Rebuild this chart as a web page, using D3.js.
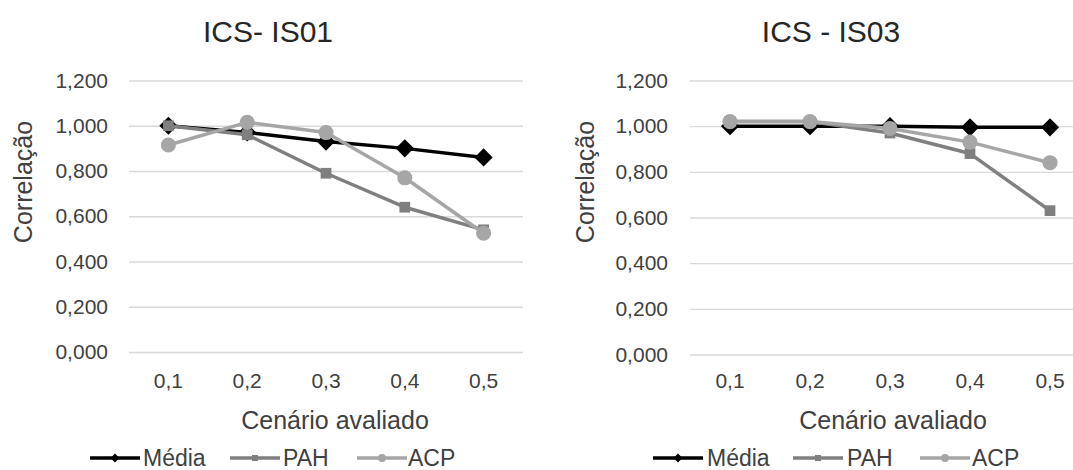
<!DOCTYPE html>
<html>
<head>
<meta charset="utf-8">
<script src="https://cdn.jsdelivr.net/npm/d3@7"></script>
<style>
  html, body { margin: 0; padding: 0; background: #fff; }
  svg { display: block; font-family: "Liberation Sans", Arial, sans-serif; }
</style>
</head>
<body>
<svg id="chart" width="1073" height="470"></svg>
<script>
// ---- data ----
const categories = ["0,1", "0,2", "0,3", "0,4", "0,5"];
const yTickValues = [0, 0.2, 0.4, 0.6, 0.8, 1.0, 1.2];
const seriesNames = ["Média", "PAH", "ACP"];

const is01Media = [1.000, 0.970, 0.930, 0.900, 0.860];
const is01PAH   = [1.000, 0.960, 0.790, 0.640, 0.540];
const is01ACP   = [0.915, 1.015, 0.970, 0.770, 0.525];

const is03Media = [1.000, 1.000, 1.000, 0.995, 0.995];
const is03PAH   = [1.020, 1.020, 0.970, 0.880, 0.630];
const is03ACP   = [1.020, 1.020, 0.990, 0.930, 0.840];

const chartTitles = ["ICS- IS01", "ICS - IS03"];
const xAxisTitle = "Cenário avaliado";
const yAxisTitle = "Correlação";

// ---- styles ----
const seriesColors = ["#000000", "#7f7f7f", "#a6a6a6"];
const seriesSymbols = [d3.symbolSquare, d3.symbolSquare, d3.symbolCircle];
const seriesRotate = [45, 0, 0];
const seriesMarkerSize = [165, 115, 180];
const legendMarkerSize = [40, 36, 50];

const locale = d3.formatLocale({decimal: ",", thousands: ".", grouping: [3], currency: ["", ""]});
const fmt = locale.format(".3f");

const svg = d3.select("#chart");

const panels = [
  {
    title: chartTitles[0], titleX: 268,
    data: [is01Media, is01PAH, is01ACP],
    x0: 129, x1: 523, yTop: 80.5, yBottom: 352,
    yLabelRight: 108, yTitleX: 32, xTitleX: 335,
    legend: [{lx: 90, tx: 143}, {lx: 230, tx: 283}, {lx: 357, tx: 408}]
  },
  {
    title: chartTitles[1], titleX: 831,
    data: [is03Media, is03PAH, is03ACP],
    x0: 690, x1: 1090, yTop: 80.5, yBottom: 354.5,
    yLabelRight: 668, yTitleX: 594, xTitleX: 893,
    legend: [{lx: 653, tx: 707}, {lx: 793, tx: 847}, {lx: 920, tx: 972}]
  }
];

panels.forEach(p => {
  const g = svg.append("g");
  const x = d3.scaleBand().domain(categories).range([p.x0, p.x1]);
  const y = d3.scaleLinear().domain([0, 1.2]).range([p.yBottom, p.yTop]);

  // title
  g.append("text")
    .attr("x", p.titleX).attr("y", 42)
    .attr("text-anchor", "middle")
    .attr("font-size", 30)
    .attr("fill", "#262626")
    .text(p.title);

  // gridlines + y labels via axis
  const yAxis = d3.axisLeft(y).tickValues(yTickValues).tickFormat(fmt)
    .tickSize(-(p.x1 - p.x0)).tickPadding(p.x0 - p.yLabelRight);
  const ya = g.append("g").attr("transform", `translate(${p.x0},0)`).call(yAxis);
  ya.select(".domain").remove();
  ya.selectAll(".tick line").attr("stroke", "#d9d9d9").attr("stroke-width", 1.3);
  ya.selectAll(".tick text")
    .attr("font-size", 21).attr("fill", "#404040")
    .attr("font-family", "Liberation Sans, Arial, sans-serif");

  // x labels via axis
  const xAxis = d3.axisBottom(x).tickSize(0).tickPadding(0);
  const xa = g.append("g").attr("transform", `translate(0,${p.yBottom})`).call(xAxis);
  xa.select(".domain").remove();
  xa.selectAll(".tick text")
    .attr("font-size", 21).attr("fill", "#404040")
    .attr("font-family", "Liberation Sans, Arial, sans-serif")
    .attr("dy", null)
    .attr("y", 388 - p.yBottom);

  // axis titles
  g.append("text")
    .attr("transform", `translate(${p.yTitleX},182) rotate(-90)`)
    .attr("text-anchor", "middle")
    .attr("font-size", 25).attr("fill", "#404040")
    .text(yAxisTitle);
  g.append("text")
    .attr("x", p.xTitleX).attr("y", 429)
    .attr("text-anchor", "middle")
    .attr("font-size", 25).attr("fill", "#404040")
    .text(xAxisTitle);

  // series
  const cx = c => x(c) + x.bandwidth() / 2;
  p.data.forEach((vals, si) => {
    const pts = vals.map((v, i) => [cx(categories[i]), y(v)]);
    g.append("path")
      .attr("d", d3.line()(pts))
      .attr("fill", "none")
      .attr("stroke", seriesColors[si])
      .attr("stroke-width", 3.5)
      .attr("stroke-linejoin", "round");
    g.selectAll(null).data(pts).enter().append("path")
      .attr("d", d3.symbol().type(seriesSymbols[si]).size(seriesMarkerSize[si]))
      .attr("transform", d => `translate(${d[0]},${d[1]}) rotate(${seriesRotate[si]})`)
      .attr("fill", seriesColors[si]);
  });

  // legend
  seriesNames.forEach((name, si) => {
    const L = p.legend[si];
    const ly = 458;
    g.append("line")
      .attr("x1", L.lx).attr("x2", L.lx + 50)
      .attr("y1", ly).attr("y2", ly)
      .attr("stroke", seriesColors[si]).attr("stroke-width", 3.5);
    g.append("path")
      .attr("d", d3.symbol().type(seriesSymbols[si]).size(legendMarkerSize[si]))
      .attr("transform", `translate(${L.lx + 25},${ly}) rotate(${seriesRotate[si]})`)
      .attr("fill", seriesColors[si]);
    g.append("text")
      .attr("x", L.tx).attr("y", ly + 8)
      .attr("font-size", 23).attr("fill", "#404040")
      .text(name);
  });
});
</script>
</body>
</html>
